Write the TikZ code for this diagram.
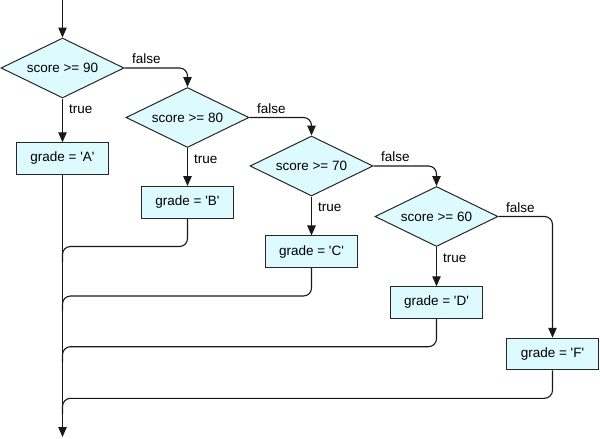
\documentclass[tikz,border=0pt]{standalone}
\usepackage{fontspec}
\setmainfont{Liberation Sans}
\usetikzlibrary{shapes.geometric,arrows.meta}
\definecolor{boxfill}{RGB}{221,250,255}
\newcommand{\myquote}{\XeTeXglyph\XeTeXcharglyph"27\relax}
\begin{document}
\begin{tikzpicture}[x=1pt,y=-1pt,
  every node/.style={font=\fontsize{13.5}{16}\selectfont},
  decision/.style={diamond,draw=black!85,fill=boxfill,line width=1pt,aspect=2.05,
    minimum width=123pt,minimum height=60pt,inner sep=0pt},
  process/.style={rectangle,draw=black!85,fill=boxfill,line width=1pt,
    minimum width=92pt,minimum height=31.5pt,inner sep=0pt},
  flow/.style={line width=1.1pt,draw=black!90,rounded corners=8pt},
  arr/.style={-{Triangle[length=10pt,width=8.5pt]}},
  lbl/.style={inner sep=0pt,anchor=west}
]
\useasboundingbox (0,0) rectangle (600,439);

% decisions
\node[decision] (d1) at (62.5,68) {score >= 90};
\node[decision] (d2) at (187.5,117.5) {score >= 80};
\node[decision] (d3) at (311.5,166) {score >= 70};
\node[decision] (d4) at (436.5,216.5) {score >= 60};

% processes
\node[process] (a) at (62.5,158.5) {grade = \myquote A\myquote};
\node[process] (b) at (187.5,202.3) {grade = \myquote B\myquote};
\node[process] (c) at (311.5,251.7) {grade = \myquote C\myquote};
\node[process] (d) at (436.5,302.5) {grade = \myquote D\myquote};
\node[process] (f) at (552.5,354) {grade = \myquote F\myquote};

% labels
\node[lbl] (t1) at ([shift={(6.5,11)}]d1.south) {true};
\node[lbl] (t2) at ([shift={(6.5,11)}]d2.south) {true};
\node[lbl] (t3) at ([shift={(6.5,11)}]d3.south) {true};
\node[lbl] (t4) at ([shift={(6.5,11)}]d4.south) {true};
\node[lbl] (f1) at ([shift={(7.5,-9)}]d1.east) {false};
\node[lbl] (f2) at ([shift={(7.5,-9)}]d2.east) {false};
\node[lbl] (f3) at ([shift={(7.5,-9)}]d3.east) {false};
\node[lbl] (f4) at ([shift={(7.5,-9)}]d4.east) {false};

% coordinates
\coordinate (start) at (62.5,0);
\coordinate (end) at (62.5,437);
\coordinate (j1) at (62.5,246.5);
\coordinate (k1) at (62.5,262);
\coordinate (j2) at (62.5,296);
\coordinate (k2) at (62.5,311);
\coordinate (j3) at (62.5,346.7);
\coordinate (k3) at (62.5,362);
\coordinate (j4) at (62.5,398.3);
\coordinate (k4) at (62.5,414);

% connectors
\draw[flow,arr] (start) -- (d1.north);
\draw[flow,arr] (d1.south) -- (a.north);
\draw[flow,arr] (d2.south) -- (b.north);
\draw[flow,arr] (d3.south) -- (c.north);
\draw[flow,arr] (d4.south) -- (d.north);
\draw[flow,arr] (d1.east) -| (d2.north);
\draw[flow,arr] (d2.east) -| (d3.north);
\draw[flow,arr] (d3.east) -| (d4.north);
\draw[flow,arr] (d4.east) -| (f.north);

\draw[flow] (b.south) |- (j1) -- (k1);
\draw[flow] (c.south) |- (j2) -- (k2);
\draw[flow] (d.south) |- (j3) -- (k3);
\draw[flow] (f.south) |- (j4) -- (k4);
\draw[flow,arr] (a.south) -- (end);
\end{tikzpicture}
\end{document}
